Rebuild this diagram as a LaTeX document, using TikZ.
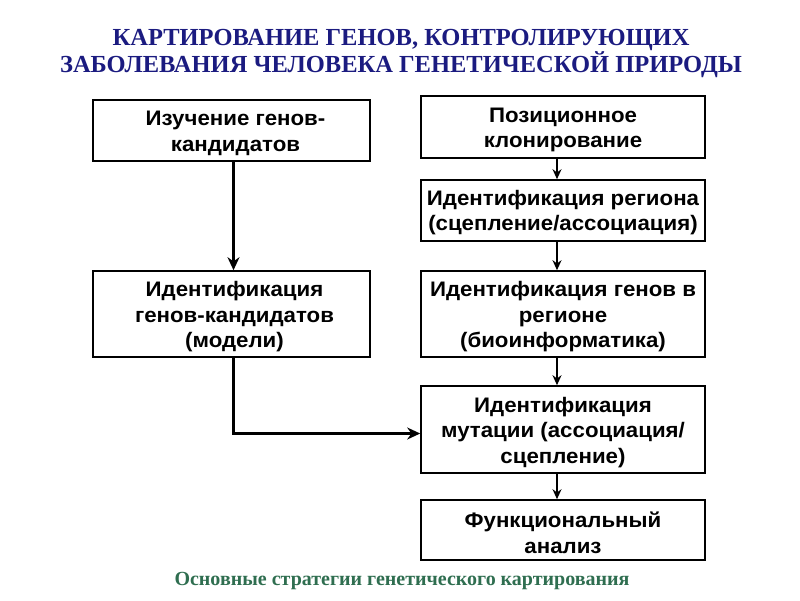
\documentclass[tikz,border=0pt]{standalone}
\usepackage{fontspec}
\setmainfont{Liberation Serif}
\newfontfamily\boxfont[FakeStretch=1.06]{Liberation Sans}
\usetikzlibrary{arrows.meta}
\definecolor{titleblue}{HTML}{1B1B80}
\definecolor{capgreen}{HTML}{2F6E50}
\tikzset{
  stepbox/.style={draw, line width=1.6pt, minimum width=284pt, inner sep=0pt},
  boxtext/.style={align=center, inner sep=0pt,
    font=\boxfont\bfseries\fontsize{21}{25.5}\selectfont},
  longarrow/.style={line width=2.6pt, -{Stealth[length=13pt,width=12pt]}},
  shortarrow/.style={line width=2pt, -{Stealth[length=10pt,width=9pt]}},
}
\begin{document}
\begin{tikzpicture}[x=1pt,y=-1pt]
\useasboundingbox (0,0) rectangle (800,600);
\node[font=\bfseries\fontsize{24.5}{27}\selectfont, text=titleblue, align=center] (title) at (401,53)
  {КАРТИРОВАНИЕ ГЕНОВ, КОНТРОЛИРУЮЩИХ\\ЗАБОЛЕВАНИЯ ЧЕЛОВЕКА ГЕНЕТИЧЕСКОЙ ПРИРОДЫ};
\node[stepbox, minimum width=277pt, minimum height=61pt] (L1) at (231.5,130.5) {};
\node[stepbox, minimum width=277pt, minimum height=86pt] (L2) at (231.5,314) {};
\node[stepbox, minimum height=62pt] (R1) at (563,127) {};
\node[stepbox, minimum height=61pt] (R2) at (563,210.5) {};
\node[stepbox, minimum height=86pt] (R3) at (563,314) {};
\node[stepbox, minimum height=87pt] (R4) at (563,429.5) {};
\node[stepbox, minimum height=60pt] (R5) at (563,530) {};
\node[boxtext] (L1t) at ([xshift=4pt,yshift=-3pt]L1.center) {Изучение генов-\\кандидатов};
\node[boxtext] (L2t) at ([xshift=3pt,yshift=-3pt]L2.center) {Идентификация\\генов-кандидатов\\(модели)};
\node[boxtext] (R1t) at ([yshift=-3pt]R1.center) {Позиционное\\клонирование};
\node[boxtext] (R2t) at ([yshift=-2pt]R2.center) {Идентификация региона\\(сцепление/ассоциация)};
\node[boxtext] (R3t) at ([yshift=-3pt]R3.center) {Идентификация генов в\\регионе\\(биоинформатика)};
\node[boxtext] (R4t) at ([yshift=-3pt]R4.center) {Идентификация\\мутации (ассоциация/\\сцепление)};
\node[boxtext] (R5t) at ([yshift=-3pt]R5.center) {Функциональный\\анализ};
\node[font=\bfseries\fontsize{20}{22}\selectfont, text=capgreen] (cap) at (402,581) {Основные стратегии генетического картирования};
\draw[longarrow] ([xshift=2pt]L1.south) -- ([xshift=2pt]L2.north);
\draw[longarrow] ([xshift=2pt]L2.south) |- ([yshift=-4pt]R4.west);
\draw[shortarrow] ([xshift=-6pt]R1.south) -- ([xshift=-6pt]R2.north);
\draw[shortarrow] ([xshift=-6pt]R2.south) -- ([xshift=-6pt]R3.north);
\draw[shortarrow] ([xshift=-6pt]R3.south) -- ([xshift=-6pt]R4.north);
\draw[shortarrow] ([xshift=-6pt]R4.south) -- ([xshift=-6pt]R5.north);
\end{tikzpicture}
\end{document}
